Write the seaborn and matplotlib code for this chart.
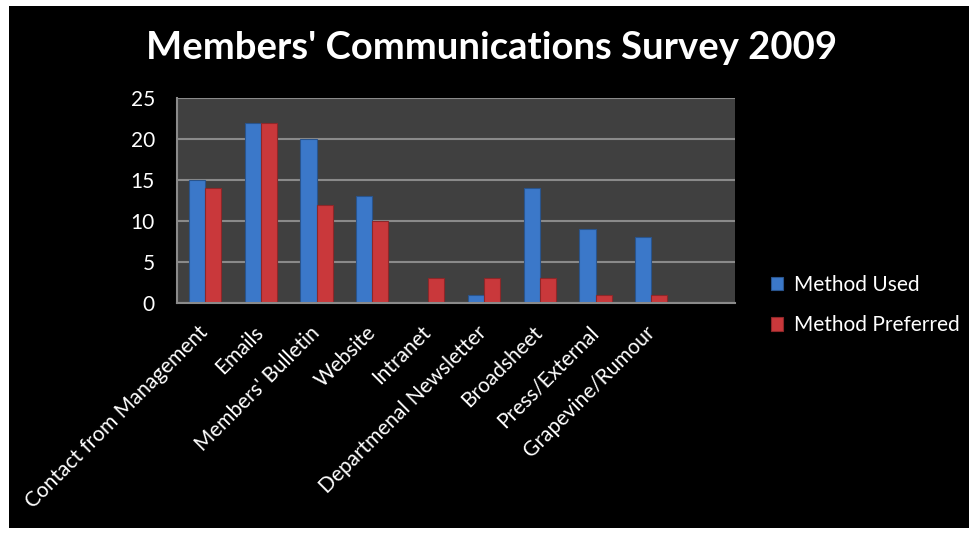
import matplotlib
matplotlib.use("Agg")
import matplotlib.pyplot as plt
from matplotlib.patches import Rectangle
import seaborn as sns
import pandas as pd

categories = ["Contact from Management", "Emails", "Members' Bulletin", "Website",
              "Intranet", "Departmenal Newsletter", "Broadsheet", "Press/External",
              "Grapevine/Rumour"]
method_used = [15, 22, 20, 13, 0, 1, 14, 9, 8]
method_preferred = [14, 22, 12, 10, 3, 3, 3, 1, 1]
series_names = ["Method Used", "Method Preferred"]
y_ticks = [0, 5, 10, 15, 20, 25]
title = "Members' Communications Survey 2009"

df = pd.DataFrame({
    "category": categories * 2,
    "value": method_used + method_preferred,
    "series": [series_names[0]] * len(categories) + [series_names[1]] * len(categories),
})

sns.set_theme(style="dark")
plt.rcParams['font.family'] = ['Lato', 'DejaVu Sans']

W, H = 969, 533
fig = plt.figure(figsize=(W / 100, H / 100), dpi=100, facecolor="white")
fig.patches.append(Rectangle((9 / W, 5 / H), 960 / W, 522 / H, transform=fig.transFigure,
                             facecolor="black", edgecolor="none", zorder=-10))

ax = fig.add_axes([177 / W, 1 - 303 / H, (735 - 177) / W, (303 - 98) / H])
ax.set_facecolor("#404040")

palette = {series_names[0]: "#3b78c9", series_names[1]: "#c9383b"}
sns.barplot(data=df, x="category", y="value", hue="series", order=categories,
            hue_order=series_names, palette=palette, width=0.58, saturation=1,
            edgecolor="none", ax=ax, legend=True)

for patch in ax.patches:
    fc = patch.get_facecolor()
    patch.set_edgecolor((fc[0] * 0.7, fc[1] * 0.7, fc[2] * 0.7, 1))
    patch.set_linewidth(0.8)

ax.set_xlim(-0.5, len(categories) + 0.5)
ax.set_ylim(0, 25)
ax.set_yticks(y_ticks)
ax.set_yticklabels([str(t) for t in y_ticks])
ax.yaxis.grid(True, color="#8a8a8a", linewidth=1.5)
ax.xaxis.grid(False)
ax.set_axisbelow(True)
ax.set_xlabel("")
ax.set_ylabel("")
for side in ["top", "right"]:
    ax.spines[side].set_visible(False)
for side in ["left", "bottom"]:
    ax.spines[side].set_visible(True)
    ax.spines[side].set_color("#8a8a8a")
    ax.spines[side].set_linewidth(1.5)

ax.tick_params(axis="y", length=0, pad=16, labelsize=15, labelcolor="white")
ax.tick_params(axis="x", length=0, pad=19, labelsize=15, labelcolor="white")
ax.set_xticks(range(len(categories)))
ax.set_xticklabels(categories, rotation=45, ha="right", rotation_mode="anchor", va="center")

handles, labels = ax.get_legend_handles_labels()
ax.get_legend().remove()
leg = fig.legend(handles, labels, loc="center left", bbox_to_anchor=(752 / W, 1 - 305 / H),
                 frameon=False, fontsize=15, labelcolor="white", handlelength=0.6,
                 handleheight=0.6, handletextpad=0.5, labelspacing=1.0)

fig.text(492 / W, 1 - 48 / H, title, ha="center", va="center", color="white",
         fontsize=27.5, fontweight="bold")

fig.savefig("out.png", dpi=100, facecolor="white")
